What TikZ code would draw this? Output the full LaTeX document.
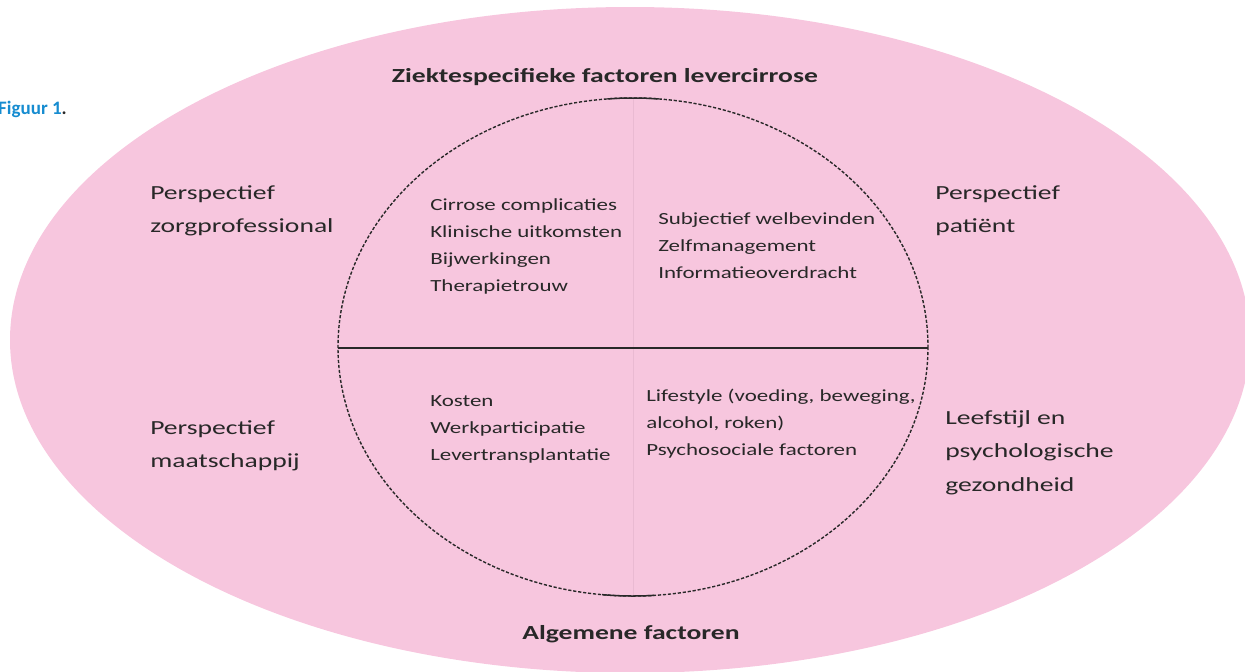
\documentclass[tikz,border=0pt]{standalone}
\usepackage{fontspec}
\setmainfont{Carlito}
\definecolor{pinkbg}{RGB}{247,198,222}
\definecolor{pinkline}{RGB}{234,186,210}
\definecolor{txt}{RGB}{40,40,40}
\definecolor{figblue}{RGB}{22,140,208}
\tikzset{
  outer/.style={anchor=base west, inner sep=0pt, text=txt, align=left,
    font=\fontsize{20}{33.5}\selectfont, xscale=1.38},
  inner/.style={anchor=base west, inner sep=0pt, text=txt, align=left,
    font=\fontsize{17}{27}\selectfont, xscale=1.35},
  heading/.style={anchor=base, inner sep=0pt, text=txt,
    font=\fontsize{20}{24}\selectfont\bfseries, xscale=1.38},
  dotline/.style={line width=1.4pt, txt, dash pattern=on 3.2pt off 1.8pt}
}
\begin{document}
\begin{tikzpicture}[x=1pt,y=-1pt]
\useasboundingbox (0,0) rectangle (1245,672);
\clip (0,0) rectangle (1245,672);
% background ellipse
\fill[pinkbg] (630,340) ellipse [x radius=620, y radius=333];
% inner ellipse
\coordinate (c) at (633,347);
\draw[pinkline, line width=1pt] (633,98) -- (633,596);
\draw[dotline] (c) ellipse [x radius=295, y radius=249];
\draw[txt, line width=1.5pt] ([shift={(96:295 and 249)}]c) arc[start angle=96, end angle=86, x radius=295, y radius=249];
\draw[txt, line width=1.5pt] ([shift={(265:295 and 249)}]c) arc[start angle=265, end angle=275, x radius=295, y radius=249];
\coordinate (hl) at (338,348);
\coordinate (hr) at (928,348);
\draw[txt, line width=2.8pt] (hl) -- (hr);
% labels
\node[anchor=base west, inner sep=0pt, font=\fontsize{19}{22}\selectfont\bfseries, text=figblue] (fig) at (-2,114) {Figuur 1\textcolor{txt}{.}};
\node[heading] (top) at (605,82) {Ziektespecifieke factoren levercirrose};
\node[heading] (bottom) at (631,639) {Algemene factoren};
\node[outer] (zorg) at (150,232.5) {Perspectief\\zorgprofessional};
\node[outer] (pat) at (935,232.5) {Perspectief\\patiënt};
\node[outer] (maat) at (150,467.5) {Perspectief\\maatschappij};
\node[outer] (leef) at (945,491) {Leefstijl en\\psychologische\\gezondheid};
\node[inner] (ul) at (430,291) {Cirrose complicaties\\Klinische uitkomsten\\Bijwerkingen\\Therapietrouw};
\node[inner] (ur) at (658,278) {Subjectief welbevinden\\Zelfmanagement\\Informatieoverdracht};
\node[inner] (ll) at (430,460) {Kosten\\Werkparticipatie\\Levertransplantatie};
\node[inner] (lr) at (646,455) {Lifestyle (voeding, beweging,\\alcohol, roken)\\Psychosociale factoren};
\end{tikzpicture}
\end{document}
